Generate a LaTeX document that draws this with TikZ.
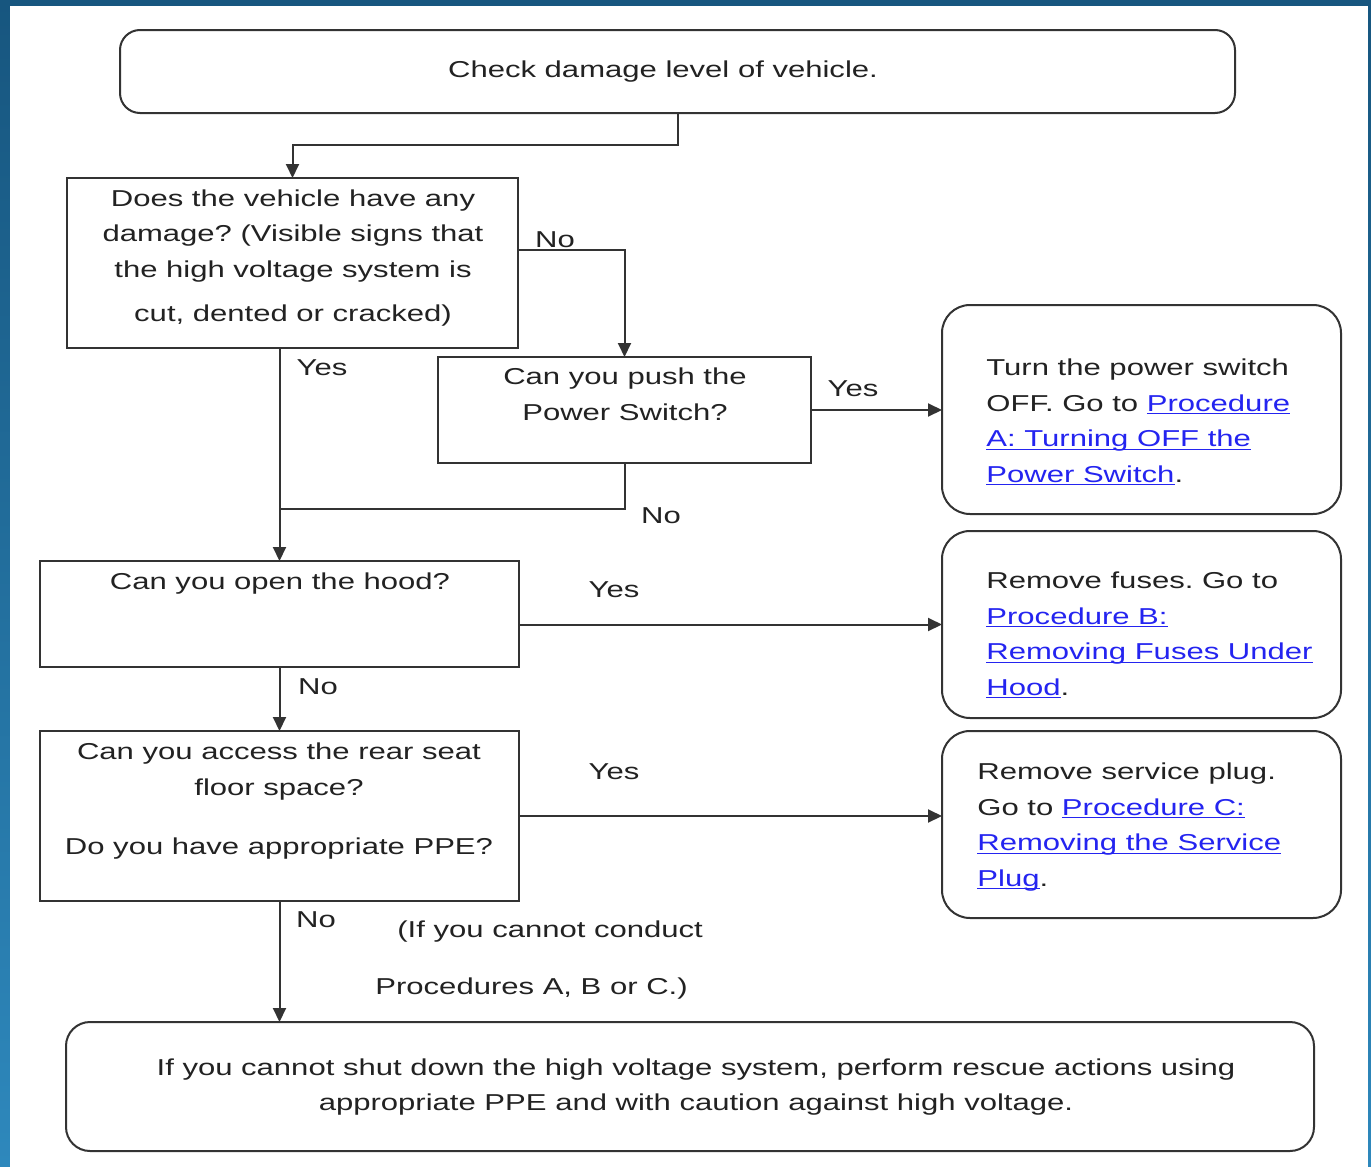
\documentclass[tikz,border=0pt]{standalone}
\usepackage{fontspec}
\setmainfont{Liberation Sans}[FakeStretch=1.35]
\usepackage{tikz}
\usetikzlibrary{positioning}
\usetikzlibrary{calc}
\usetikzlibrary{arrows.meta}

\definecolor{frametop}{HTML}{17567F}
\definecolor{framebottom}{HTML}{2E88BC}
\definecolor{inkgray}{HTML}{333333}
\definecolor{textgray}{HTML}{222222}
\definecolor{linkblue}{HTML}{2424F0}

\newsavebox{\lnkbox}
\newcommand{\lnk}[1]{{\color{linkblue}\sbox{\lnkbox}{#1}\rlap{\rule[-1.5pt]{\wd\lnkbox}{0.5pt}}\usebox{\lnkbox}}}
\frenchspacing

\begin{document}
\begin{tikzpicture}[x=0.5pt, y=-0.5pt,
    squarebox/.style={draw=inkgray, line width=1pt, fill=white, inner sep=0pt, outer sep=0pt},
    softbox/.style={squarebox, rounded corners=14pt},
    flowline/.style={draw=inkgray, line width=1pt},
    arrowline/.style={flowline, -{Triangle[length=7pt, width=6.5pt]}},
    txt/.style={inner sep=0pt, text=textgray, font=\fontsize{11.5pt}{17.75pt}\selectfont},
    answer/.style={txt, anchor=base}]

    \useasboundingbox (0,0) rectangle (1371,1167);
    \fill[top color=frametop, bottom color=framebottom] (0,0) rectangle (1371,1167);
    \fill[white] (10,6) rectangle (1368,1167);

    \node[softbox, rounded corners=10pt, minimum width=557.5pt, minimum height=41.5pt] (check) at (677.5,71.5) {};
    \node[squarebox, minimum width=225.5pt, minimum height=85pt] (damage) at (292.5,263) {};
    \node[squarebox, minimum width=186.5pt, minimum height=53pt] (power) at (624.5,410) {};
    \node[softbox, minimum width=199.5pt, minimum height=104.5pt] (procA) at (1141.5,409.5) {};
    \node[squarebox, minimum width=239.5pt, minimum height=53pt] (hood) at (279.5,614) {};
    \node[softbox, minimum width=199.5pt, minimum height=93.5pt] (procB) at (1141.5,624.5) {};
    \node[squarebox, minimum width=239.5pt, minimum height=85pt] (rear) at (279.5,816) {};
    \node[softbox, minimum width=199.5pt, minimum height=93.5pt] (procC) at (1141.5,824.5) {};
    \node[softbox, rounded corners=12pt, minimum width=624pt, minimum height=64.5pt] (rescue) at (690,1086.5) {};

    \node[txt, anchor=base] (checktext) at (663,77) {Check damage level of vehicle.};
    \node[txt, align=center, anchor=base] (damagetext) at (293,321) {Does the vehicle have any\\damage? (Visible signs that\\the high voltage system is\\[4.25pt]cut, dented or cracked)};
    \node[txt, align=center, anchor=base] (powertext) at (625,420) {Can you push the\\Power Switch?};
    \node[txt, align=left, anchor=base west] (procAtext) at (986,482) {Turn the power switch\\OFF. Go to \lnk{Procedure}\\\lnk{A: Turning OFF the}\\\lnk{Power Switch}.};
    \node[txt, anchor=base] (hoodtext) at (280,589) {Can you open the hood?};
    \node[txt, align=left, anchor=base west] (procBtext) at (986,695) {Remove fuses. Go to\\\lnk{Procedure B:}\\\lnk{Removing Fuses Under}\\\lnk{Hood}.};
    \node[txt, align=center, anchor=base] (reartext) at (279,854) {Can you access the rear seat\\floor space?\\[11.75pt]Do you have appropriate PPE?};
    \node[txt, align=left, anchor=base west] (procCtext) at (977,886) {Remove service plug.\\Go to \lnk{Procedure C:}\\\lnk{Removing the Service}\\\lnk{Plug}.};
    \node[txt, align=center, anchor=base, font=\fontsize{11.5pt}{17.5pt}\selectfont] (rescuetext) at (696,1110) {If you cannot shut down the high voltage system, perform rescue actions using\\appropriate PPE and with caution against high voltage.};

    \draw[arrowline] (check.south) -- ++(0,32) -| (damage.north);
    \draw[arrowline] ([yshift=6.5pt]damage.east) -| (power.north);
    \draw[arrowline] (damage.south -| hood.north) -- (hood.north);
    \coordinate (merge) at (279.5,509);
    \draw[flowline] (power.south) |- (merge);
    \draw[arrowline] (power.east) -- (power.east -| procA.west);
    \draw[arrowline] (hood.east |- procB.west) -- (procB.west);
    \draw[arrowline] (hood.south) -- (rear.north);
    \draw[arrowline] (rear.east) -- (rear.east -| procC.west);
    \draw[arrowline] (rear.south) -- (rear.south |- rescue.north);

    \node[answer] (nodamage) at (555,247) {No};
    \node[answer] (yesdamage) at (322,375) {Yes};
    \node[answer] (yespower) at (853,396) {Yes};
    \node[answer] (nopower) at (661,523) {No};
    \node[answer] (yeshood) at (614,597) {Yes};
    \node[answer] (nohood) at (318,694) {No};
    \node[answer] (yesrear) at (614,779) {Yes};
    \node[answer] (norear) at (316,927) {No};
    \node[txt, anchor=base west] (fallback) at (397,937) {(If you cannot conduct};
    \node[txt, anchor=base west] (fallbacktwo) at (375,994) {Procedures A, B or C.)};

\end{tikzpicture}
\end{document}
